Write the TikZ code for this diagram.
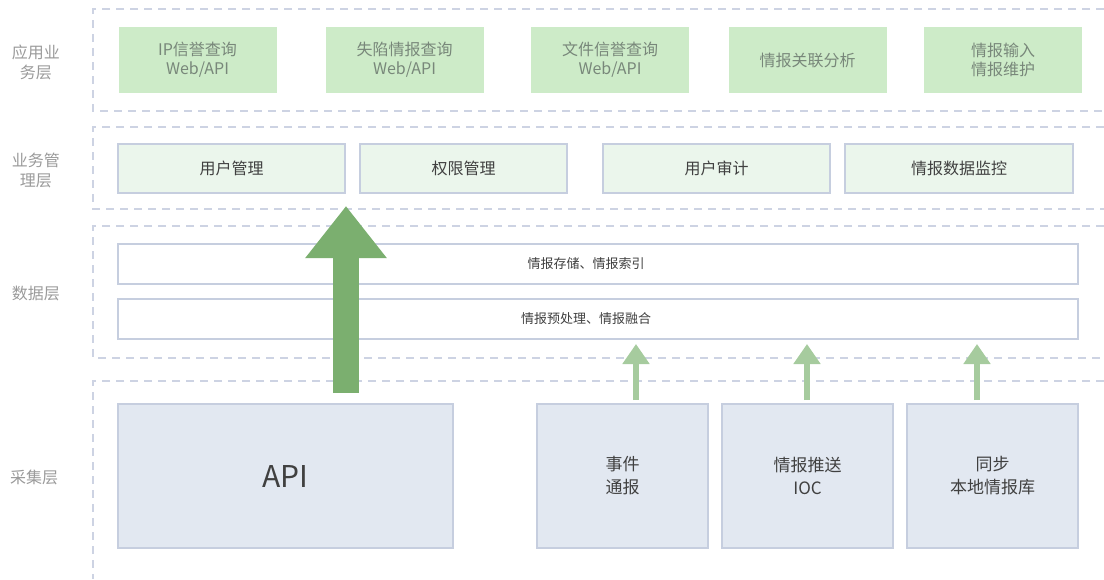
\documentclass[tikz,border=0pt]{standalone}
\usepackage{fontspec}
\setmainfont{Noto Sans CJK SC}
\usetikzlibrary{arrows.meta}

\definecolor{dashgray}{HTML}{CDD3E3}
\definecolor{boxline}{HTML}{C6CEDF}
\definecolor{taggray}{HTML}{9A9A9A}
\definecolor{appgreen}{HTML}{CDEBC8}
\definecolor{apptext}{HTML}{78877A}
\definecolor{mgmtfill}{HTML}{EBF6EC}
\definecolor{colfill}{HTML}{E2E8F1}
\definecolor{textdark}{HTML}{404040}
\definecolor{biggreen}{HTML}{7BAF6F}
\definecolor{smallgreen}{HTML}{A6CB9E}

\begin{document}
\begin{tikzpicture}[x=1pt, y=-1pt,
	frame/.style={draw=dashgray, line width=1.3pt, dash pattern=on 8pt off 6pt},
	tag/.style={text=taggray, font=\fontsize{16}{20}\selectfont, align=center},
	app/.style={fill=appgreen, minimum width=158pt, minimum height=66pt, inner sep=0pt, text=apptext, font=\fontsize{16}{19}\selectfont, align=center},
	mgmt/.style={draw=boxline, line width=1.1pt, fill=mgmtfill, minimum height=49pt, inner sep=0pt, text=textdark, font=\fontsize{16}{19}\selectfont},
	data/.style={draw=boxline, line width=1.1pt, fill=white, minimum width=960pt, minimum height=40pt, inner sep=0pt, text=textdark, font=\fontsize{13}{16}\selectfont},
	src/.style={draw=boxline, line width=1.1pt, fill=colfill, minimum width=171pt, minimum height=144pt, inner sep=0pt, text=textdark, font=\fontsize{17}{23}\selectfont, align=center},
	bigup/.style={draw=biggreen, line width=26pt, -{Triangle[length=52pt, width=78pt]}},
	smallup/.style={draw=smallgreen, line width=6pt, -{Triangle[length=20pt, width=26pt]}}]
	\useasboundingbox (0,0) rectangle (1104,579);

	\draw[frame] (1104,9) -- (93,9) -- (93,111) -- (1104,111);
	\draw[frame] (1104,127) -- (93,127) -- (93,209) -- (1104,209);
	\draw[frame] (1104,226) -- (93,226) -- (93,358) -- (1104,358);
	\draw[frame] (1104,381) -- (93,381) -- (93,579);

	\node[tag] (TApp) at (36,62) {应用业\\务层};
	\node[tag] (TMgmt) at (36,170) {业务管\\理层};
	\node[tag] (TData) at (36,293) {数据层};
	\node[tag] (TSrc) at (34,477) {采集层};

	\node[app] (IP) at (197.5,60) {IP信誉查询\\Web/API};
	\node[app] (Trap) at (404.5,60) {失陷情报查询\\Web/API};
	\node[app] (File) at (610,60) {文件信誉查询\\Web/API};
	\node[app] (Link) at (807.5,60) {情报关联分析};
	\node[app] (Input) at (1003,60) {情报输入\\情报维护};

	\node[mgmt, minimum width=227pt] (User) at (231.5,168.5) {用户管理};
	\node[mgmt, minimum width=207pt] (Perm) at (463.5,168.5) {权限管理};
	\node[mgmt, minimum width=227pt] (Audit) at (716.5,168.5) {用户审计};
	\node[mgmt, minimum width=228pt] (Mon) at (959,168.5) {情报数据监控};

	\node[data] (Store) at (598,264) {\hspace*{-24pt}情报存储、情报索引};
	\node[data] (Pre) at (598,319) {\hspace*{-24pt}情报预处理、情报融合};

	\node[src, minimum width=335pt, font=\fontsize{30}{36}\selectfont] (API) at (285.5,476) {API};
	\node[src] (Evt) at (622.5,476) {事件\\通报};
	\node[src] (IOC) at (807.5,476) {情报推送\\IOC};
	\node[src] (Sync) at (992.5,476) {同步\\本地情报库};

	\coordinate (APIout) at (346,393);
	\coordinate (APItip) at (346,206);
	\coordinate (Evtout) at (636,400);
	\coordinate (Evttip) at (636,344);
	\coordinate (IOCout) at (807,400);
	\coordinate (IOCtip) at (807,344);
	\coordinate (Syncout) at (977,400);
	\coordinate (Synctip) at (977,344);

	\draw[bigup] (APIout) -- (APItip);
	\draw[smallup] (Evtout) -- (Evttip);
	\draw[smallup] (IOCout) -- (IOCtip);
	\draw[smallup] (Syncout) -- (Synctip);
\end{tikzpicture}
\end{document}
